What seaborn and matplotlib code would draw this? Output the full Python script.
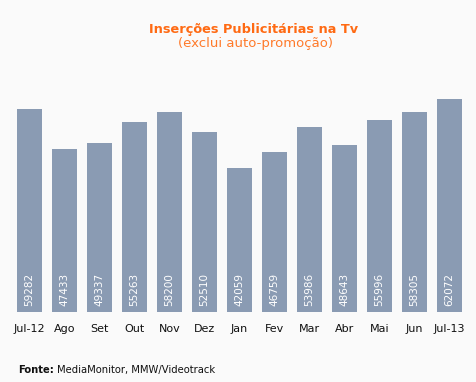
import matplotlib
matplotlib.use("Agg")
import matplotlib.pyplot as plt
import seaborn as sns
import pandas as pd

meses = ["Jul-12", "Ago", "Set", "Out", "Nov", "Dez", "Jan", "Fev", "Mar", "Abr", "Mai", "Jun", "Jul-13"]
insercoes = [59282, 47433, 49337, 55263, 58200, 52510, 42059, 46759, 53986, 48643, 55996, 58305, 62072]

df = pd.DataFrame({"mes": meses, "insercoes": insercoes})

sns.set_style("white")
plt.rcParams["font.family"] = ["DejaVu Sans"]

bg = "#fafafa"
fig = plt.figure(figsize=(4.76, 3.82), dpi=100, facecolor=bg)
ax = fig.add_axes([12 / 476, 70 / 382, 455 / 476, 252 / 382])
ax.set_facecolor(bg)

sns.barplot(data=df, x="mes", y="insercoes", color="#8a9bb3", saturation=1, width=0.714,
            linewidth=0, ax=ax)
ax.set_xlim(-0.5, len(meses) - 0.5)
ax.set_ylim(0, 62072 * 252 / 213)

for i, v in enumerate(insercoes):
    ax.text(i, 1800, str(v), rotation=90, ha="center", va="bottom", color="white", fontsize=7.5)

for s in ax.spines.values():
    s.set_visible(False)
ax.set_yticks([])
ax.set_xlabel("")
ax.set_ylabel("")
ax.tick_params(axis="x", length=0, labelsize=8, pad=9, colors="#111111")

fig.text(254 / 476, 1 - 30 / 382, "Inserções Publicitárias na Tv", ha="center", va="center",
         color="#ff6a13", fontsize=9.3, fontweight="bold")
fig.text(255 / 476, 1 - 44 / 382, "(exclui auto-promoção)", ha="center", va="center",
         color="#ff7a2a", fontsize=9.5)

fig.text(18 / 476, 1 - 370 / 382, "Fonte:", ha="left", va="center", fontsize=7.2, fontweight="bold", color="#111111")
fig.text(57 / 476, 1 - 370 / 382, "MediaMonitor, MMW/Videotrack", ha="left", va="center", fontsize=7.2, color="#111111")

fig.savefig("out.png", dpi=100, facecolor=bg)
